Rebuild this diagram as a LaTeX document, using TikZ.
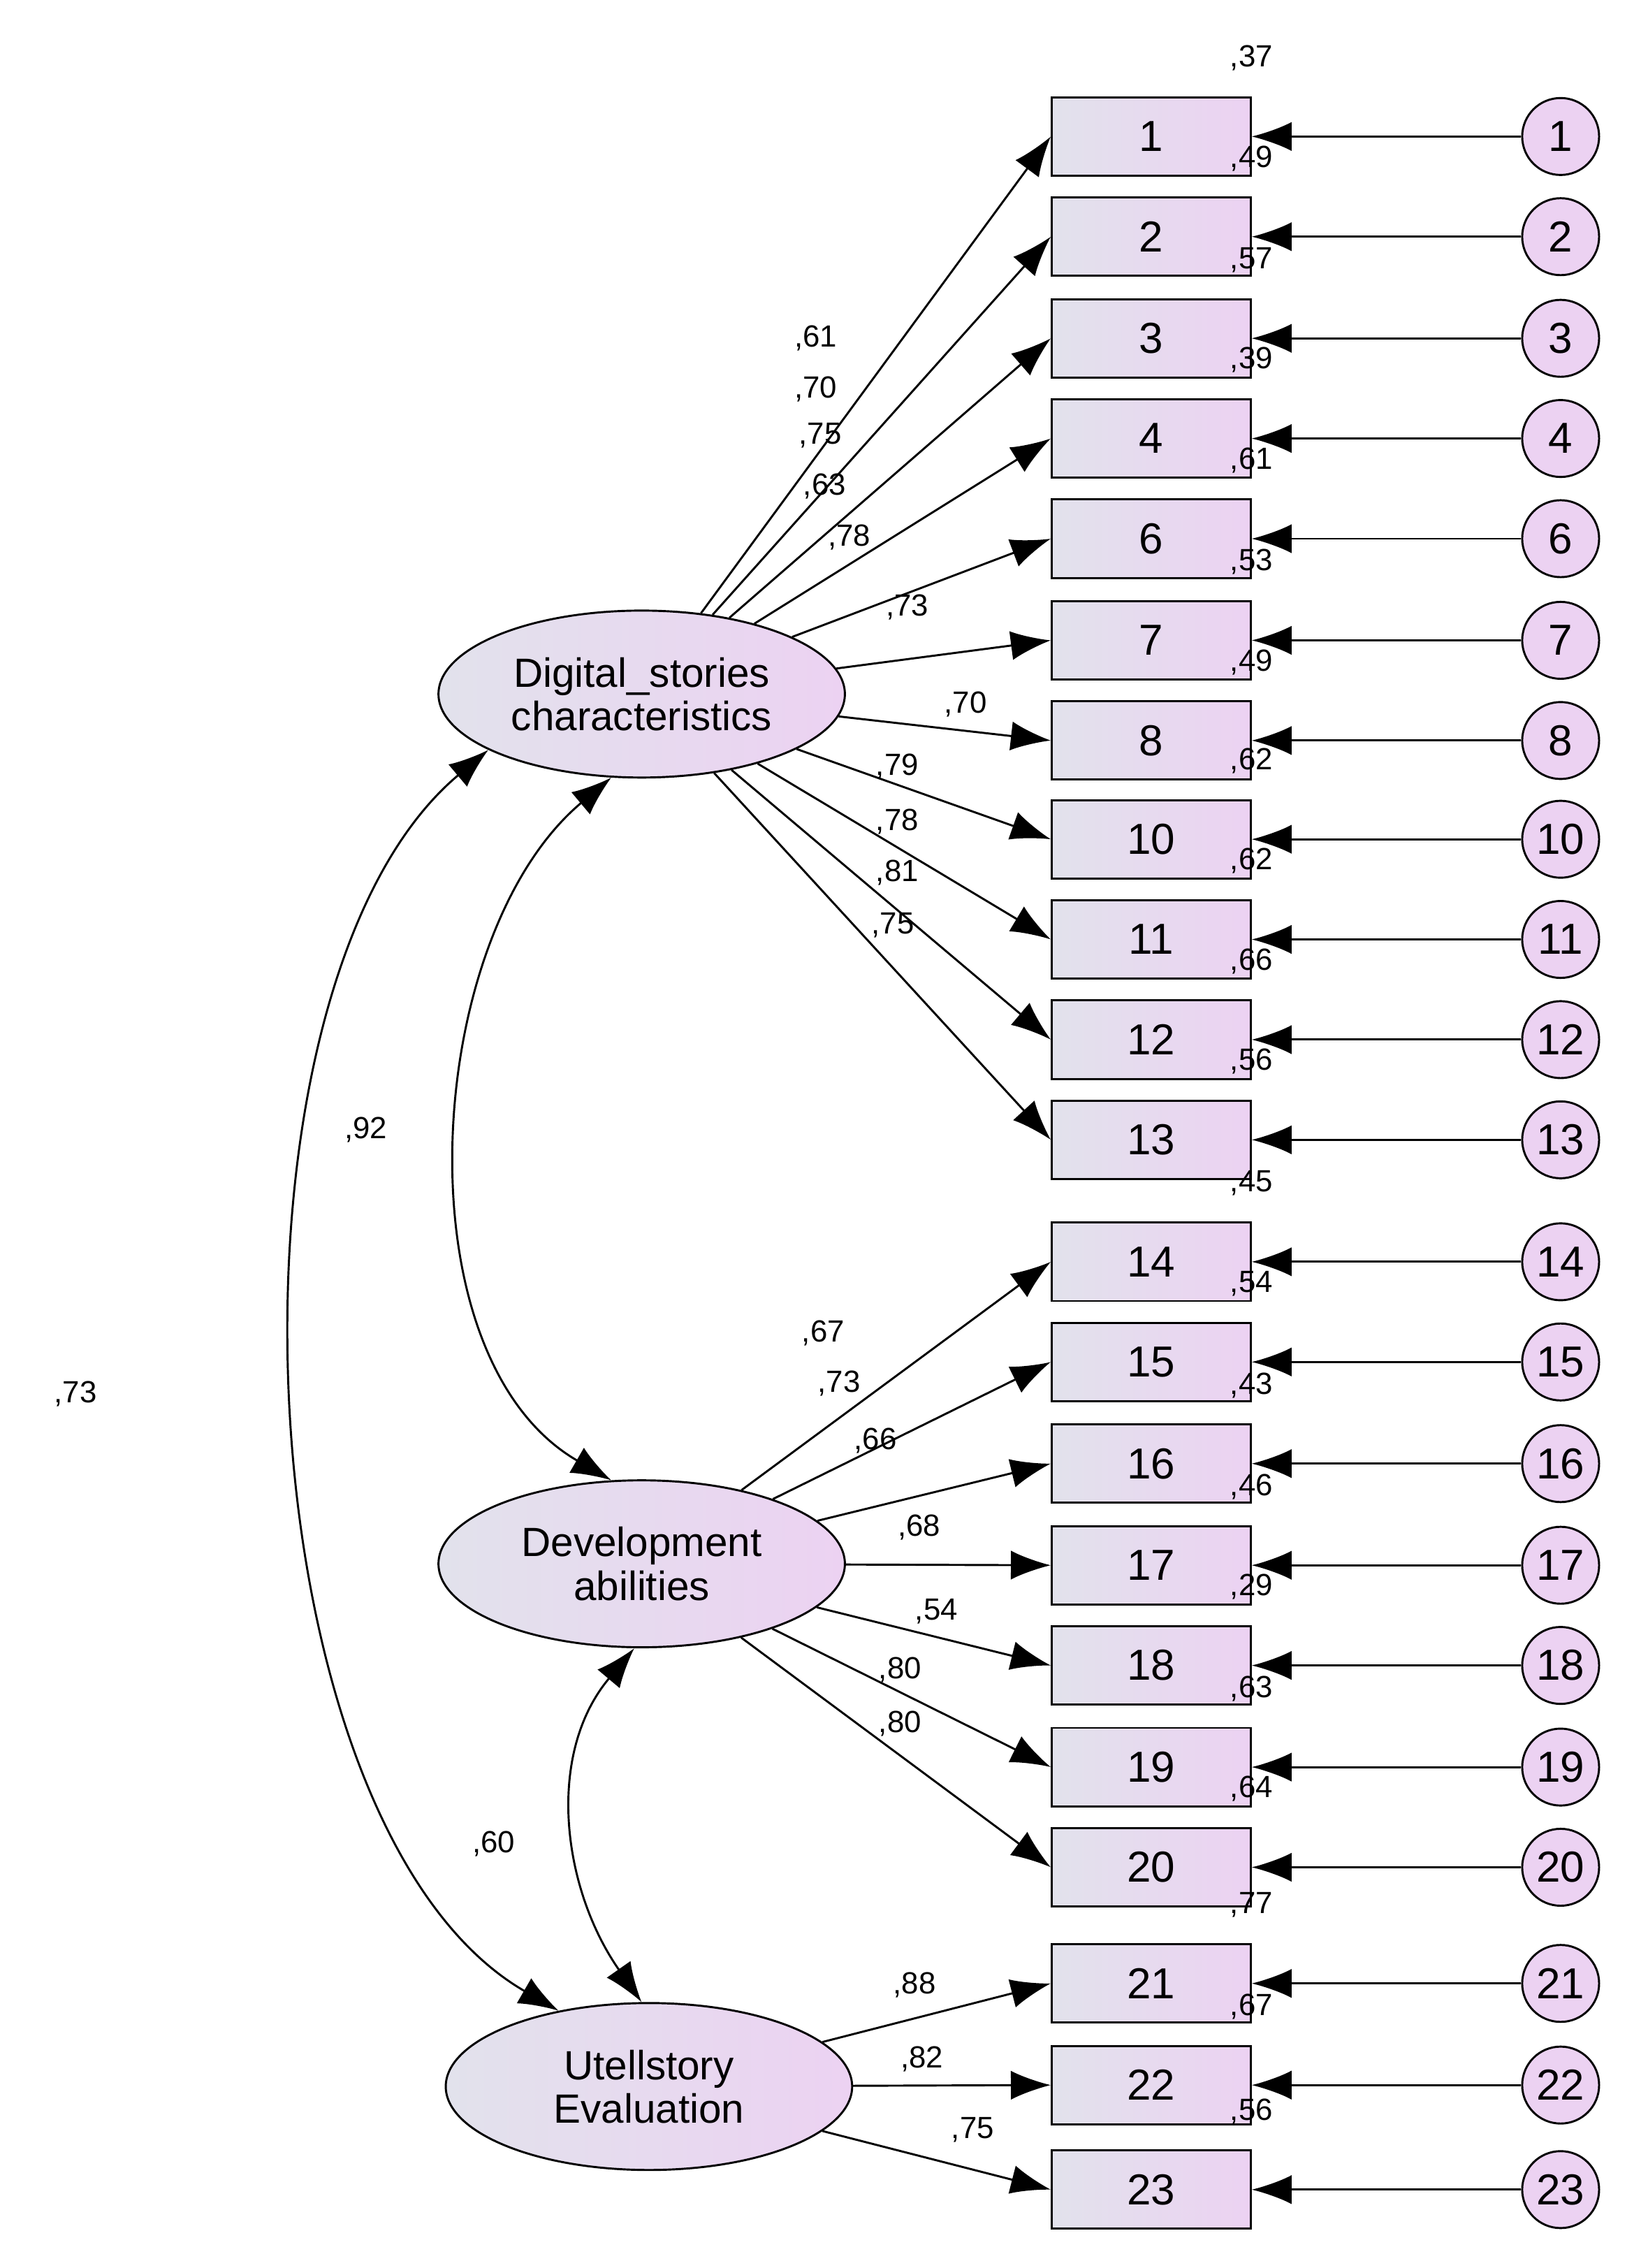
\documentclass[tikz,border=0pt]{standalone}
\usepackage{fontspec}
\setmainfont{Liberation Sans}
\usetikzlibrary{shapes.geometric,arrows.meta}
\definecolor{shadeL}{HTML}{E2E2EC}
\definecolor{shadeR}{HTML}{ECD2F2}
\tikzset{item/.style={draw,thick,left color=shadeL,right color=shadeR,
                      minimum width=2.74cm,minimum height=1.08cm,font=\fontsize{17}{17}\selectfont}}
\tikzset{err/.style={draw,thick,circle,fill=shadeR,minimum size=1.06cm,inner sep=0pt,
                     font=\fontsize{17}{17}\selectfont}}
\tikzset{latent/.style={draw,thick,ellipse,left color=shadeL,right color=shadeR,
                        minimum width=5.6cm,minimum height=2.3cm,align=center,
                        font=\fontsize{16}{17}\selectfont}}
\tikzset{myarrow/.style={-{Latex[length=5.5mm,width=4mm]},thick}}
\tikzset{coef/.style={font=\fontsize{12}{12}\selectfont,inner sep=0pt}}
\begin{document}
\begin{tikzpicture}[x=0.02cm,y=-0.02cm]
\useasboundingbox (0,0) rectangle (1130,1562);

% Latent factors
\node[latent] (DSC) at (442,478) {Digital\_stories\\characteristics};
\node[latent] (DA) at (442,1077) {Development\\abilities};
\node[latent] (UE) at (447,1437) {Utellstory\\Evaluation};

% Items, errors, loadings
\foreach \n/\y/\f/\lx/\ly/\l/\r in {
 1/94/DSC/562/233/61/37, 2/163/DSC/562/268/70/49, 3/233/DSC/565/300/75/57,
 4/302/DSC/568/335/63/39, 6/371/DSC/585/370/78/61, 7/441/DSC/625/418/73/53,
 8/510/DSC/665/485/70/49, 10/578/DSC/618/528/79/62, 11/647/DSC/618/566/78/62,
 12/716/DSC/618/601/81/66, 13/785/DSC/615/637/75/56,
 14/869/DA/567/918/67/45, 15/938/DA/578/953/73/54, 16/1008/DA/603/992/66/43,
 17/1078/DA/633/1052/68/46, 18/1147/DA/645/1110/54/29, 19/1217/DA/620/1150/80/63,
 20/1286/DA/620/1187/80/64,
 21/1366/UE/630/1367/88/77, 22/1436/UE/635/1418/82/67, 23/1508/UE/670/1467/75/56}
{
  \node[item] (Item-\n) at (793,\y) {\n};
  \node[err] (Err-\n) at (1075,\y) {\n};
  \draw[myarrow] (Err-\n) -- (Item-\n.east);
  \draw[myarrow] (\f) -- (Item-\n.west);
  \node[coef] at (\lx,\ly) {,\l};
  \node[coef] at (862,\y-54) {,\r};
}

% Covariances
\draw[{Latex[length=5.5mm,width=4mm]}-{Latex[length=5.5mm,width=4mm]},thick]
  (DSC.-110) to[out=220,in=150,looseness=0.9] (DA.110);
\draw[{Latex[length=5.5mm,width=4mm]}-{Latex[length=5.5mm,width=4mm]},thick]
  (DSC.200) to[out=220,in=150,looseness=0.75] (UE.140);
\draw[{Latex[length=5.5mm,width=4mm]}-{Latex[length=5.5mm,width=4mm]},thick]
  (DA.-95) to[out=230,in=125,looseness=1.0] (UE.95);
\node[coef] at (252,778) {,92};
\node[coef] at (52,960) {,73};
\node[coef] at (340,1270) {,60};
\end{tikzpicture}
\end{document}
